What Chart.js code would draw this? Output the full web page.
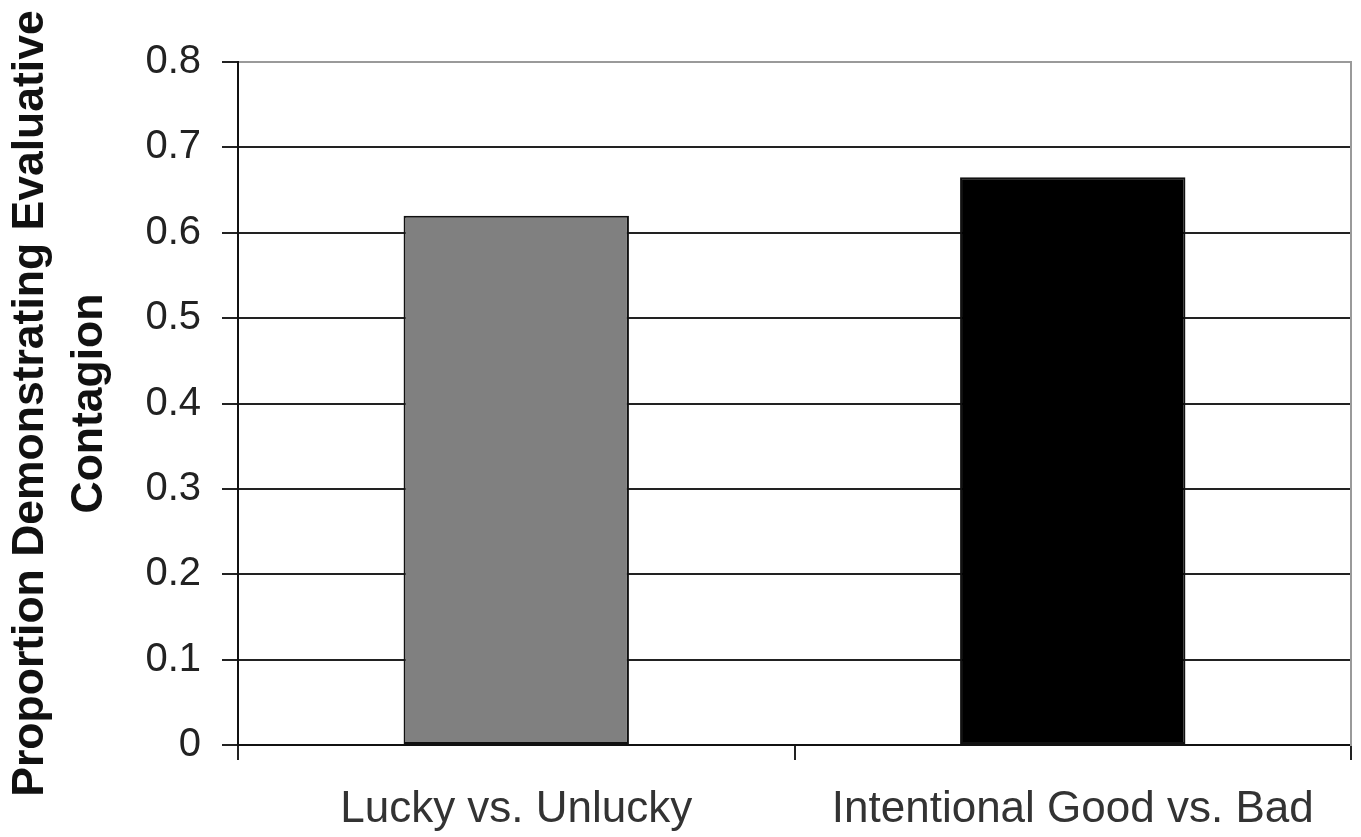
<!DOCTYPE html>
<html>
<head>
<meta charset="utf-8">
<script src="https://cdn.jsdelivr.net/npm/chart.js@4/dist/chart.umd.min.js"></script>
<style>
  html, body { margin: 0; padding: 0; background: #fff; }
  #wrap { width: 1361px; height: 837px; }
</style>
</head>
<body>
<div id="wrap"><canvas id="barChart" width="1361" height="837"></canvas></div>
<script>
const conditions = ['Lucky vs. Unlucky', 'Intentional Good vs. Bad']
const proportions = [0.62, 0.665]
const barColors = ['#808080', '#000000']
const yTickLabels = ['0', '0.1', '0.2', '0.3', '0.4', '0.5', '0.6', '0.7', '0.8']
const yTitle = ['Proportion Demonstrating Evaluative', 'Contagion']

const sans = "'Liberation Sans', Arial, sans-serif"

const data = {
    labels: conditions,
    datasets: [{
        data: proportions,
        backgroundColor: barColors,
        borderColor: '#111',
        borderWidth: 2,
        borderSkipped: false,
        categoryPercentage: 1,
        barPercentage: 0.405
    }]
}

const config = {
    type: 'bar',
    data: data,
    options: {
        responsive: false,
        animation: false,
        devicePixelRatio: 1,
        layout: {
            padding: { top: 62, right: 10, bottom: 0, left: 0 }
        },
        plugins: {
            legend: { display: false },
            tooltip: { enabled: false }
        },
        scales: {
            x: {
                afterFit: (axis) => { axis.height = 92 },
                grid: {
                    offset: true,
                    drawOnChartArea: false,
                    tickLength: 15,
                    color: '#222',
                    lineWidth: 2
                },
                border: { color: '#111', width: 2 },
                ticks: {
                    color: '#333',
                    padding: 28,
                    maxRotation: 0,
                    minRotation: 0,
                    autoSkip: false,
                    font: { family: sans, size: 44, lineHeight: 1 }
                }
            },
            y: {
                min: 0,
                max: 0.8,
                afterFit: (axis) => { axis.width = 238 },
                grid: {
                    color: (ctx) => ctx.tick && ctx.tick.value >= 0.8 ? '#9a9a9a' : '#222',
                    tickColor: '#222',
                    lineWidth: 2,
                    tickLength: 16
                },
                border: { color: '#111', width: 2 },
                ticks: {
                    stepSize: 0.1,
                    color: '#222',
                    padding: 21,
                    font: { family: sans, size: 40 },
                    callback: (value, i) => yTickLabels[i]
                },
                title: {
                    display: true,
                    text: yTitle,
                    color: '#111',
                    padding: { top: 1, bottom: 0 },
                    font: { family: sans, size: 44.5, weight: 'bold', lineHeight: '59px' }
                }
            },
            // right-hand frame line
            y2: {
                position: 'right',
                min: 0,
                max: 0.8,
                afterFit: (axis) => { axis.width = 0 },
                grid: { drawOnChartArea: false, drawTicks: false },
                border: { color: '#9a9a9a', width: 2 },
                ticks: { display: false }
            }
        }
    }
}

const myChart = new Chart(document.getElementById('barChart'), config)
</script>
</body>
</html>
